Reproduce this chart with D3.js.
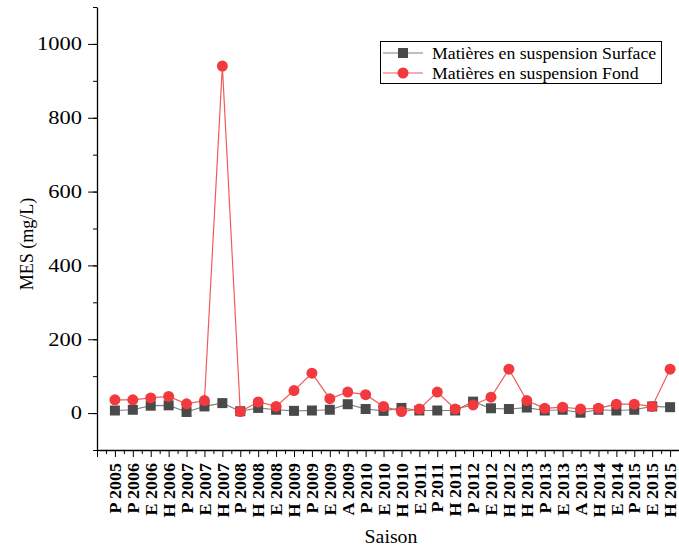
<!DOCTYPE html>
<html>
<head>
<meta charset="utf-8">
<script src="https://cdn.jsdelivr.net/npm/d3@7"></script>
<style>
  body { margin: 0; background: #fff; }
  svg text { font-family: "Liberation Serif", "Times New Roman", Times, "DejaVu Serif", serif; }
</style>
</head>
<body>
<div id="chart"></div>
<script>
//Categories (season + year)
const seasons = ["P 2005", "P 2006", "E 2006", "H 2006", "P 2007", "E 2007", "H 2007", "P 2008",
  "H 2008", "E 2008", "H 2009", "P 2009", "E 2009", "A 2009", "P 2010", "E 2010", "H 2010",
  "E 2011", "P 2011", "H 2011", "P 2012", "E 2012", "H 2012", "H 2013", "P 2013", "E 2013",
  "A 2013", "H 2014", "E 2014", "P 2015", "E 2015", "H 2015"];

//MES values (mg/L)
const surface = [7, 9, 20, 21, 3, 18, 27, 5, 14, 9, 6, 7, 9, 24, 11, 6, 14, 7, 7, 7, 31,
  13, 11, 15, 7, 9, 1, 9, 7, 9, 18, 16];
const fond = [36, 36, 41, 45, 25, 34, 940, 4, 30, 18, 61, 108, 39, 57, 50, 18, 4, 11, 57, 11, 22,
  43, 119, 34, 13, 16, 11, 13, 24, 24, 18, 119];

const yTicks = [0, 200, 400, 600, 800, 1000];

const seriesNames = ["Matières en suspension Surface", "Matières en suspension Fond"];

const width = 679;
const height = 549;
const plotLeft = 97, plotRight = 688, plotTop = 7, plotBottom = 450;

const svg = d3.select("#chart").append("svg")
  .attr("width", width)
  .attr("height", height);

svg.append("rect").attr("width", width).attr("height", height).attr("fill", "#fff");

//Scales
const x = d3.scaleLinear().domain([0, seasons.length + 1]).range([plotLeft, plotRight]);
const y = d3.scaleLinear().domain([-100, 1100]).range([plotBottom, plotTop]);

//Minor ticks first (short)
const xMinor = d3.range(0.5, seasons.length + 1, 1);
svg.append("g")
  .attr("transform", `translate(0,${plotBottom})`)
  .call(d3.axisBottom(x).tickValues(xMinor).tickSize(4).tickFormat(""))
  .call(g => g.select(".domain").remove());

const yMinor = d3.range(-100, 1101, 100);
svg.append("g")
  .attr("transform", `translate(${plotLeft},0)`)
  .call(d3.axisLeft(y).tickValues(yMinor).tickSize(4).tickFormat(""))
  .call(g => g.select(".domain").remove());

//X axis with rotated labels
const xAxis = svg.append("g")
  .attr("transform", `translate(0,${plotBottom})`)
  .call(d3.axisBottom(x)
    .tickValues(d3.range(0, seasons.length + 2))
    .tickSize(7)
    .tickSizeOuter(0)
    .tickFormat(i => (i >= 1 && i <= seasons.length) ? seasons[i - 1] : ""));

xAxis.attr("font-family", null);
xAxis.select(".domain").attr("stroke", "#000").attr("stroke-width", 1.3);
xAxis.selectAll(".tick line").attr("stroke", "#000");
xAxis.selectAll(".tick text")
  .attr("x", null).attr("y", null).attr("dy", "0.35em")
  .attr("text-anchor", "end")
  .attr("transform", "translate(0,13) rotate(-90) scale(1,0.9)")
  .attr("font-weight", "bold")
  .attr("font-size", 18)
  .attr("fill", "#000");

//Y axis
const yAxis = svg.append("g")
  .attr("transform", `translate(${plotLeft},0)`)
  .call(d3.axisLeft(y).tickValues(yTicks).tickSize(9).tickSizeOuter(0).tickFormat(d3.format("d")));

yAxis.attr("font-family", null);
yAxis.select(".domain").attr("stroke", "#000").attr("stroke-width", 1.3);
yAxis.selectAll(".tick line").attr("stroke", "#000");
yAxis.selectAll(".tick text")
  .attr("x", null)
  .attr("transform", "translate(-15,0) scale(1.25,1)")
  .attr("font-size", 18)
  .attr("fill", "#000");

//Axis titles
svg.append("text")
  .attr("transform", "translate(33,244) rotate(-90)")
  .attr("text-anchor", "middle")
  .attr("font-size", 18)
  .text("MES (mg/L)");

svg.append("text")
  .attr("transform", "translate(391,543) scale(1.1,1)")
  .attr("text-anchor", "middle")
  .attr("font-size", 18)
  .text("Saison");

//Lines
const line = d3.line().x((d, i) => x(i + 1)).y(d => y(d));

svg.append("path").datum(surface)
  .attr("d", line).attr("fill", "none")
  .attr("stroke", "#808080").attr("stroke-width", 1.2);

svg.append("path").datum(fond)
  .attr("d", line).attr("fill", "none")
  .attr("stroke", "#f25a5a").attr("stroke-width", 1.2);

//Markers
const sq = 10;
svg.append("g").selectAll("rect").data(surface).join("rect")
  .attr("x", (d, i) => x(i + 1) - sq / 2)
  .attr("y", d => y(d) - sq / 2)
  .attr("width", sq).attr("height", sq)
  .attr("fill", "#4a4a4a");

svg.append("g").selectAll("circle").data(fond).join("circle")
  .attr("cx", (d, i) => x(i + 1))
  .attr("cy", d => y(d))
  .attr("r", 5.5)
  .attr("fill", "#f2393d");

//Legend
const legend = svg.append("g");
legend.append("rect")
  .attr("x", 380.5).attr("y", 41.5)
  .attr("width", 281).attr("height", 42)
  .attr("fill", "#fff").attr("stroke", "#000").attr("stroke-width", 1);

const rows = legend.selectAll("g.row").data(seriesNames).join("g")
  .attr("class", "row")
  .attr("transform", (d, i) => `translate(0,${53 + i * 20})`);

rows.append("line")
  .attr("x1", 383).attr("x2", 423)
  .attr("stroke", (d, i) => i === 0 ? "#808080" : "#f25a5a")
  .attr("stroke-width", 1.2);

rows.filter((d, i) => i === 0).append("rect")
  .attr("x", 403 - sq / 2).attr("y", -sq / 2)
  .attr("width", sq).attr("height", sq)
  .attr("fill", "#4a4a4a");

rows.filter((d, i) => i === 1).append("circle")
  .attr("cx", 403).attr("r", 5.5)
  .attr("fill", "#f2393d");

rows.append("text")
  .attr("transform", "translate(432,0) scale(1.11,1)")
  .attr("dy", "0.35em")
  .attr("font-size", 16)
  .text(d => d);
</script>
</body>
</html>
